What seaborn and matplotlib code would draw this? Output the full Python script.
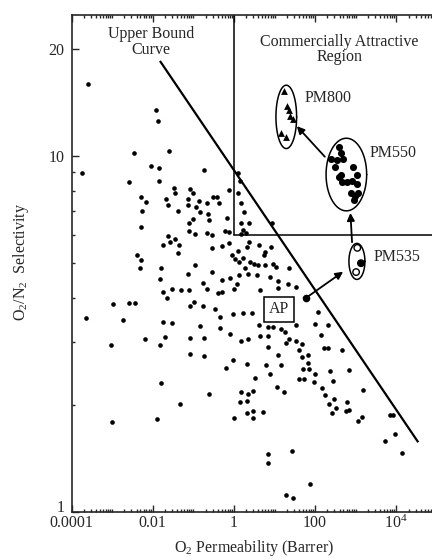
import numpy as np
import matplotlib
matplotlib.use("Agg")
import matplotlib.pyplot as plt
import matplotlib.transforms as mtransforms
import seaborn as sns
from matplotlib.ticker import FixedLocator, FixedFormatter, LogLocator, NullFormatter

# Literature membranes: log10 O2 permeability (Barrer) and log10 O2/N2 selectivity
lit_log_perm = [
    -3.60, -3.74, -3.64, -2.97, -3.03, -3.00, -1.91, -1.88,
    -2.45, -1.61, -2.05, -1.84, -0.74, -2.58, -1.84, -1.48, -1.44, -1.07, -1.01, -2.29,
    -2.16, -1.68, -1.62, -1.14, -0.87, -1.14, -0.93, -0.67, -0.52, -1.38,
    -0.83, -0.64, -2.26, -1.00, -1.11, -0.61, -2.29, -1.11, -0.97, -0.67,
    -0.54, -1.62, -1.75, -1.58, -1.45, -1.35, -1.38, -0.54, -2.39, -2.29,
    -2.32, -1.79, -0.97, -1.82, -1.14, -0.54, -1.75, -1.52, -1.31, -1.11,
    -0.76, -0.66, -1.65,
    -0.42, -0.37, -0.13, 0.09, 0.15, 0.11, 0.17, 0.25, -0.18, 0.17, 0.37, 0.93,
    -0.22, -0.11, 0.22, 0.30, 0.17, -0.12, -0.29, 0.36, 0.32, 0.62, 0.91, 0.11,
    -0.05, 0.03, 0.77, 0.75, 0.23, 0.13, 0.40, 0.49, 0.60, 0.77, 0.97, 1.03, 1.36,
    0.27, 0.35, 0.56, 0.89, 1.09, -0.10, -0.29, 0.08, 0.13, 1.34, 1.53, 1.08, 0.64,
    -0.30, -0.40, 0.00,
    -2.58, -2.43, -2.73, -1.08, -0.98, -0.77, -1.75, -1.52, -0.84, -2.20,
    -1.69, -1.82, -1.08, -0.74, -1.08, -0.74, -1.79, -0.61, -1.32, -1.89,
    -0.47, -0.34, -0.02, 0.22, -0.34, -0.10, 0.17, 0.35, -0.02, 0.32, -0.19,
    0.17, 0.35, 0.14, 0.32, 0.32, 0.01,
    0.44, 0.62, 0.85, 0.96, 0.64, 0.85, 1.15, 1.26, 1.53, 2.06, 2.00, 2.31, 2.14,
    1.36, 1.29, 1.53, 1.68, 0.85, 1.61, 2.22, 2.33, 2.66, 1.83, 1.67, 1.09, 1.83,
    0.78, 1.15, 1.71, 1.85, 0.89, 2.00, 2.37, 2.84, 0.52, 1.60, 1.73, 1.97, 2.44,
    1.05, 2.16, 0.48, 1.23, 2.24, 3.19, 2.47, 2.34, 2.51, 2.41, 2.78, 2.84, 2.75,
    0.46, 0.71, 0.48, 3.16, 3.05, 3.84, 3.93, 3.97, 3.72, 4.13, 0.85, 1.42, 0.83,
    1.28, 1.45, 1.88,
]
lit_log_sel = [
    1.202, 0.953, 0.546, 0.584, 0.469, 0.254, 1.130, 1.099,
    1.008, 1.015, 0.973, 0.965, 0.962, 0.926, 0.931, 0.911, 0.896, 0.907, 0.896, 0.884,
    0.872, 0.880, 0.862, 0.880, 0.874, 0.862, 0.858, 0.869, 0.884, 0.846,
    0.843, 0.838, 0.846, 0.823, 0.812, 0.819, 0.800, 0.789, 0.781, 0.785,
    0.777, 0.776, 0.750, 0.758, 0.766, 0.750, 0.727, 0.742, 0.723, 0.708,
    0.685, 0.685, 0.693, 0.654, 0.669, 0.673, 0.619, 0.627, 0.623, 0.623,
    0.642, 0.627, 0.600,
    0.886, 0.867, 0.905, 0.951, 0.930, 0.895, 0.867, 0.844, 0.825, 0.813, 0.813, 0.813,
    0.790, 0.787, 0.792, 0.785, 0.780, 0.755, 0.747, 0.759, 0.745, 0.750, 0.744, 0.734,
    0.722, 0.712, 0.731, 0.722, 0.713, 0.703, 0.703, 0.696, 0.694, 0.694, 0.697, 0.689, 0.686,
    0.685, 0.669, 0.666, 0.659, 0.650, 0.656, 0.652, 0.640, 0.666, 0.640, 0.631, 0.628, 0.624,
    0.619, 0.614, 0.626,
    0.588, 0.588, 0.538, 0.578, 0.589, 0.578, 0.535, 0.531, 0.523, 0.485,
    0.492, 0.470, 0.489, 0.489, 0.444, 0.439, 0.362, 0.331, 0.304, 0.262,
    0.570, 0.548, 0.555, 0.559, 0.516, 0.501, 0.481, 0.486, 0.428, 0.417, 0.404,
    0.336, 0.331, 0.309, 0.313, 0.278, 0.263,
    0.558, 0.525, 0.521, 0.521, 0.494, 0.494, 0.513, 0.505, 0.524, 0.563, 0.528, 0.525, 0.498,
    0.486, 0.474, 0.481, 0.472, 0.463, 0.455, 0.460, 0.460, 0.455, 0.440, 0.436, 0.440, 0.418,
    0.413, 0.413, 0.402, 0.402, 0.387, 0.387, 0.395, 0.399, 0.376, 0.374, 0.374, 0.364, 0.368,
    0.351, 0.348, 0.340, 0.336, 0.329, 0.342, 0.317, 0.303, 0.291, 0.279, 0.310, 0.287, 0.283,
    0.284, 0.282, 0.263, 0.268, 0.256, 0.272, 0.272, 0.218, 0.199, 0.165, 0.163, 0.171, 0.138,
    0.049, 0.040, 0.079,
]

# Polymer membranes (same log10 units)
pm800_log_perm = [1.23, 1.31, 1.35, 1.38, 1.45, 1.16, 1.28]
pm800_log_sel = [1.183, 1.140, 1.129, 1.112, 1.103, 1.064, 1.053]

pm550_log_perm = [2.58, 2.63, 2.39, 2.53, 2.68, 2.49, 2.94, 3.04, 2.63,
                  2.60, 2.66, 2.78, 2.90, 3.02, 2.88, 2.98, 3.06, 2.95]
pm550_log_sel = [1.024, 1.008, 0.991, 0.989, 0.991, 0.970, 0.970, 0.948, 0.948,
                 0.941, 0.928, 0.926, 0.930, 0.921, 0.895, 0.888, 0.896, 0.876]

pm535_log_perm = [3.04, 3.13, 3.01]
pm535_log_sel = [0.742, 0.699, 0.674]
pm535_filled = [False, True, False]

ap_log_perm = [1.77]
ap_log_sel = [0.601]

# Robeson upper bound (end points, Barrer / selectivity)
upper_bound_perm = [0.0151, 34700.0]
upper_bound_sel = [18.5, 1.57]

# Commercially attractive corner
region_min_perm = 1.0
region_min_sel = 6.0

x_tick_values = [1e-4, 1e-2, 1e0, 1e2, 1e4, 1e6]
x_tick_labels = ["0.0001", "0.01", "1", "100", r"$\mathregular{10^4}$", ""]
y_tick_values = [1, 10, 20]
y_tick_labels = ["1", "10", "20"]

sns.set_style("ticks")
plt.rcParams["font.family"] = ["Liberation Serif", "DejaVu Serif"]
plt.rcParams["mathtext.fontset"] = "custom"
plt.rcParams["mathtext.rm"] = "Liberation Serif"
plt.rcParams["mathtext.it"] = "Liberation Serif:italic"

FS = 11.5
fig = plt.figure(figsize=(4.32, 5.6), dpi=100)
ax = fig.add_axes([71.5 / 432, 48 / 560, 406 / 432, 497 / 560])
ax.set_xscale("log")
ax.set_yscale("log")
ax.set_xlim(1e-4, 1e6)
ax.set_ylim(1, 24.9)

def p10(v):
    return 10 ** np.asarray(v, dtype=float)

# commercial region boundaries
ax.plot([region_min_perm, region_min_perm], [region_min_sel, 1e3], color="k", lw=1.1)
ax.plot([region_min_perm, 1e7], [region_min_sel, region_min_sel], color="k", lw=1.1)

# upper bound
ax.plot(upper_bound_perm, upper_bound_sel, color="k", lw=1.6, solid_capstyle="butt")

sns.scatterplot(x=p10(lit_log_perm), y=p10(lit_log_sel), color="k", s=11,
                linewidth=0, ax=ax, zorder=3)
sns.scatterplot(x=p10(pm800_log_perm), y=p10(pm800_log_sel), color="k", marker="^",
                s=24, linewidth=0, ax=ax, zorder=3)
sns.scatterplot(x=p10(pm550_log_perm), y=p10(pm550_log_sel), color="k", s=26,
                linewidth=0, ax=ax, zorder=3)
fc = ["k" if f else "white" for f in pm535_filled]
ax.scatter(p10(pm535_log_perm), p10(pm535_log_sel), s=22, facecolors=fc,
           edgecolors="k", linewidths=1.0, zorder=3)
sns.scatterplot(x=p10(ap_log_perm), y=p10(ap_log_sel), color="k", s=30,
                linewidth=0, ax=ax, zorder=4)

# enclosing rings (centre / semi-axes in decades)
def ring(cx, cy, rx, ry):
    t = np.linspace(0, 2 * np.pi, 240)
    ax.plot(10 ** (cx + rx * np.cos(t)), 10 ** (cy + ry * np.sin(t)), color="k", lw=1.1)

ring(1.29, 1.110, 0.255, 0.089)
ring(2.77, 0.948, 0.50, 0.102)
ring(3.03, 0.704, 0.197, 0.0506)

arrow = dict(arrowstyle="-|>", color="k", lw=1.3, mutation_scale=11, shrinkA=0, shrinkB=0)
ax.annotate("", xy=(10 ** 2.69, 10 ** 0.675), xytext=(10 ** 1.77, 10 ** 0.601), arrowprops=arrow)
ax.annotate("", xy=(10 ** 2.87, 10 ** 0.840), xytext=(10 ** 2.91, 10 ** 0.758), arrowprops=arrow)
ax.annotate("", xy=(10 ** 1.55, 10 ** 1.084), xytext=(10 ** 2.24, 10 ** 0.998), arrowprops=arrow)

ax.text(10 ** -2.04, 10 ** 1.320, "Upper Bound\nCurve", ha="center", va="center",
        fontsize=FS, linespacing=0.95)
ax.text(10 ** 2.60, 10 ** 1.299, "Commercially Attractive\nRegion", ha="center", va="center",
        fontsize=FS, linespacing=0.95)
ax.text(10 ** 1.73, 10 ** 1.163, "PM800", ha="left", va="center", fontsize=FS)
ax.text(10 ** 3.35, 10 ** 1.008, "PM550", ha="left", va="center", fontsize=FS)
ax.text(10 ** 3.43, 10 ** 0.716, "PM535", ha="left", va="center", fontsize=FS)
ax.text(10 ** 1.11, 10 ** 0.569, "AP", ha="center", va="center", fontsize=FS, zorder=5,
        bbox=dict(boxstyle="square,pad=0.3", fc="white", ec="k", lw=1.1))

# axes styling
for sp in ax.spines.values():
    sp.set_linewidth(1.2)
ax.xaxis.set_major_locator(FixedLocator(x_tick_values))
ax.xaxis.set_major_formatter(FixedFormatter(x_tick_labels))
ax.xaxis.set_minor_locator(LogLocator(base=10, subs=np.arange(1, 10), numticks=40))
ax.xaxis.set_minor_formatter(NullFormatter())
ax.yaxis.set_major_locator(FixedLocator(y_tick_values))
ax.yaxis.set_major_formatter(FixedFormatter(y_tick_labels))
ax.yaxis.set_minor_locator(LogLocator(base=10, subs=np.arange(2, 10), numticks=20))
ax.yaxis.set_minor_formatter(NullFormatter())
ax.tick_params(which="both", direction="in", top=True, right=True, width=1.0)
ax.tick_params(which="major", length=5, labelsize=FS)
ax.tick_params(which="minor", length=2.5)
ax.tick_params(axis="x", which="major", pad=2)
ax.tick_params(axis="y", which="major", pad=5)

ax.set_xlabel(r"$\mathregular{O_2}$ Permeability (Barrer)", fontsize=FS)
ax.set_ylabel(r"$\mathregular{O_2/N_2}$  Selectivity", fontsize=FS)
ax.xaxis.set_label_coords(0.4495, -0.052)
ax.yaxis.set_label_coords(-0.10, 0.503)

# lift the corner "1" a little so it clears the first x label
fig.canvas.draw()
lift = mtransforms.ScaledTranslation(0, 4 / 72, fig.dpi_scale_trans)
for lbl in ax.get_yticklabels():
    if lbl.get_text() == "1":
        lbl.set_transform(lbl.get_transform() + lift)

fig.savefig("out.png", dpi=100)
